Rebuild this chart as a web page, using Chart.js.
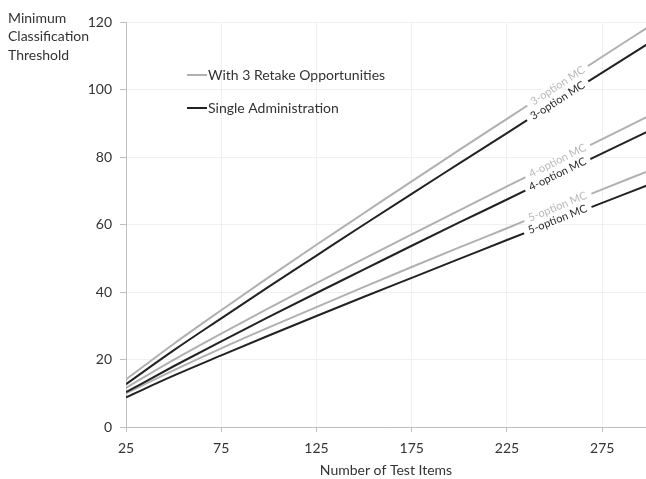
<!DOCTYPE html>
<html>
<head>
<meta charset="utf-8">
<script src="https://cdn.jsdelivr.net/npm/chart.js@4.4.1/dist/chart.umd.min.js"></script>
<style>
  html, body { margin: 0; padding: 0; background: #fff; }
</style>
</head>
<body>
<canvas id="myChart" width="646" height="479"></canvas>
<script>
// Number of test items (x)
const testItems = [25, 50, 75, 100, 125, 150, 175, 200, 225, 250, 275, 300];

// Minimum classification threshold
const retake3 = [14.1, 24.6, 34.6, 44.4, 54.0, 63.4, 72.8, 82.1, 91.3, 100.5, 109.7, 118.8];
const single3 = [12.7, 22.7, 32.2, 41.6, 50.8, 60.0, 69.1, 78.1, 87.1, 96.1, 105.0, 113.9];
const retake4 = [11.6, 19.9, 27.7, 35.2, 42.6, 49.9, 57.1, 64.2, 71.3, 78.3, 85.3, 92.3];
const single4 = [10.3, 18.0, 25.4, 32.6, 39.7, 46.7, 53.7, 60.6, 67.4, 74.3, 81.1, 87.8];
const retake5 = [10.0, 16.8, 23.3, 29.5, 35.5, 41.5, 47.4, 53.2, 58.9, 64.7, 70.4, 76.0];
const single5 = [8.8, 15.2, 21.2, 27.1, 32.9, 38.6, 44.2, 49.8, 55.4, 60.9, 66.4, 71.9];

const xTickValues = [25, 75, 125, 175, 225, 275];
const legendLabels = ['With 3 Retake Opportunities', 'Single Administration'];
const yTitleLines = ['Minimum', 'Classification', 'Threshold'];
const xTitle = 'Number of Test Items';

const GREY = '#b0b0b0';
const DARK = '#222222';
const TEXT = '#333333';
const FONT = 'Lato, "Open Sans", sans-serif';

function series(label, values, color, tag) {
    return {
        label: label,
        data: values.map((v, i) => ({ x: testItems[i], y: v })),
        borderColor: color,
        borderWidth: 2,
        pointRadius: 0,
        fill: false,
        cubicInterpolationMode: 'monotone',
        lineTag: tag,
        tagColor: color === GREY ? '#b8b8b8' : '#2a2a2a'
    };
}

// Rotated labels sitting on the lines, with a white gap behind them
const lineTagPlugin = {
    id: 'lineTags',
    afterDatasetsDraw(chart) {
        const ctx = chart.ctx;
        const at = 9; // label near 250 items
        chart.data.datasets.forEach((ds, i) => {
            const pts = chart.getDatasetMeta(i).data;
            const p = pts[at], a = pts[at - 1], b = pts[at + 1];
            const angle = Math.atan2(b.y - a.y, b.x - a.x);
            ctx.save();
            ctx.font = '11px ' + FONT;
            const w = ctx.measureText(ds.lineTag).width;
            ctx.translate(p.x + 3, p.y - 2);
            ctx.rotate(angle);
            ctx.fillStyle = '#ffffff';
            ctx.fillRect(-w / 2 - 5, -5, w + 10, 10);
            ctx.fillStyle = ds.tagColor;
            ctx.textAlign = 'center';
            ctx.textBaseline = 'middle';
            ctx.fillText(ds.lineTag, 0, 0);
            ctx.restore();
        });
    },
    afterDraw(chart) {
        const ctx = chart.ctx;
        const area = chart.chartArea;
        ctx.save();
        ctx.font = '14px ' + FONT;
        ctx.fillStyle = TEXT;
        ctx.textBaseline = 'middle';
        ctx.textAlign = 'left';
        // y axis title, top left
        yTitleLines.forEach((t, i) => ctx.fillText(t, 8, 18 + i * 18.5));
        // legend inside the plot
        [GREY, DARK].forEach((c, i) => {
            const y = 75 + i * 33;
            ctx.strokeStyle = c;
            ctx.lineWidth = 2;
            ctx.beginPath();
            ctx.moveTo(187, y);
            ctx.lineTo(207, y);
            ctx.stroke();
            ctx.fillText(legendLabels[i], 208, y);
        });
        // x axis title
        ctx.textAlign = 'center';
        ctx.fillText(xTitle, (area.left + area.right) / 2, 470);
        ctx.restore();
    }
};

const ctx = document.getElementById('myChart').getContext('2d');
new Chart(ctx, {
    type: 'line',
    data: {
        datasets: [
            series('3-option retake', retake3, GREY, '3-option MC'),
            series('3-option single', single3, DARK, '3-option MC'),
            series('4-option retake', retake4, GREY, '4-option MC'),
            series('4-option single', single4, DARK, '4-option MC'),
            series('5-option retake', retake5, GREY, '5-option MC'),
            series('5-option single', single5, DARK, '5-option MC')
        ]
    },
    options: {
        responsive: false,
        animation: false,
        layout: { padding: { top: 22, right: 0, bottom: 0, left: 0 } },
        plugins: {
            legend: { display: false },
            tooltip: { enabled: false }
        },
        scales: {
            x: {
                type: 'linear',
                min: 25,
                max: 298,
                afterBuildTicks: (scale) => { scale.ticks = xTickValues.map(v => ({ value: v })); },
                afterFit: (scale) => { scale.height = 52; },
                grid: { color: '#f0f0f0', tickColor: '#bfbfbf', tickLength: 5 },
                border: { color: '#bfbfbf' },
                ticks: { color: TEXT, font: { size: 14, family: FONT }, padding: 8, maxRotation: 0 }
            },
            y: {
                min: 0,
                max: 120,
                ticks: { stepSize: 20, color: TEXT, font: { size: 14, family: FONT }, padding: 8 },
                afterFit: (scale) => { scale.width = 126; },
                grid: { color: '#f0f0f0', tickColor: '#bfbfbf', tickLength: 6 },
                border: { color: '#bfbfbf' }
            }
        }
    },
    plugins: [lineTagPlugin]
});
</script>
</body>
</html>
